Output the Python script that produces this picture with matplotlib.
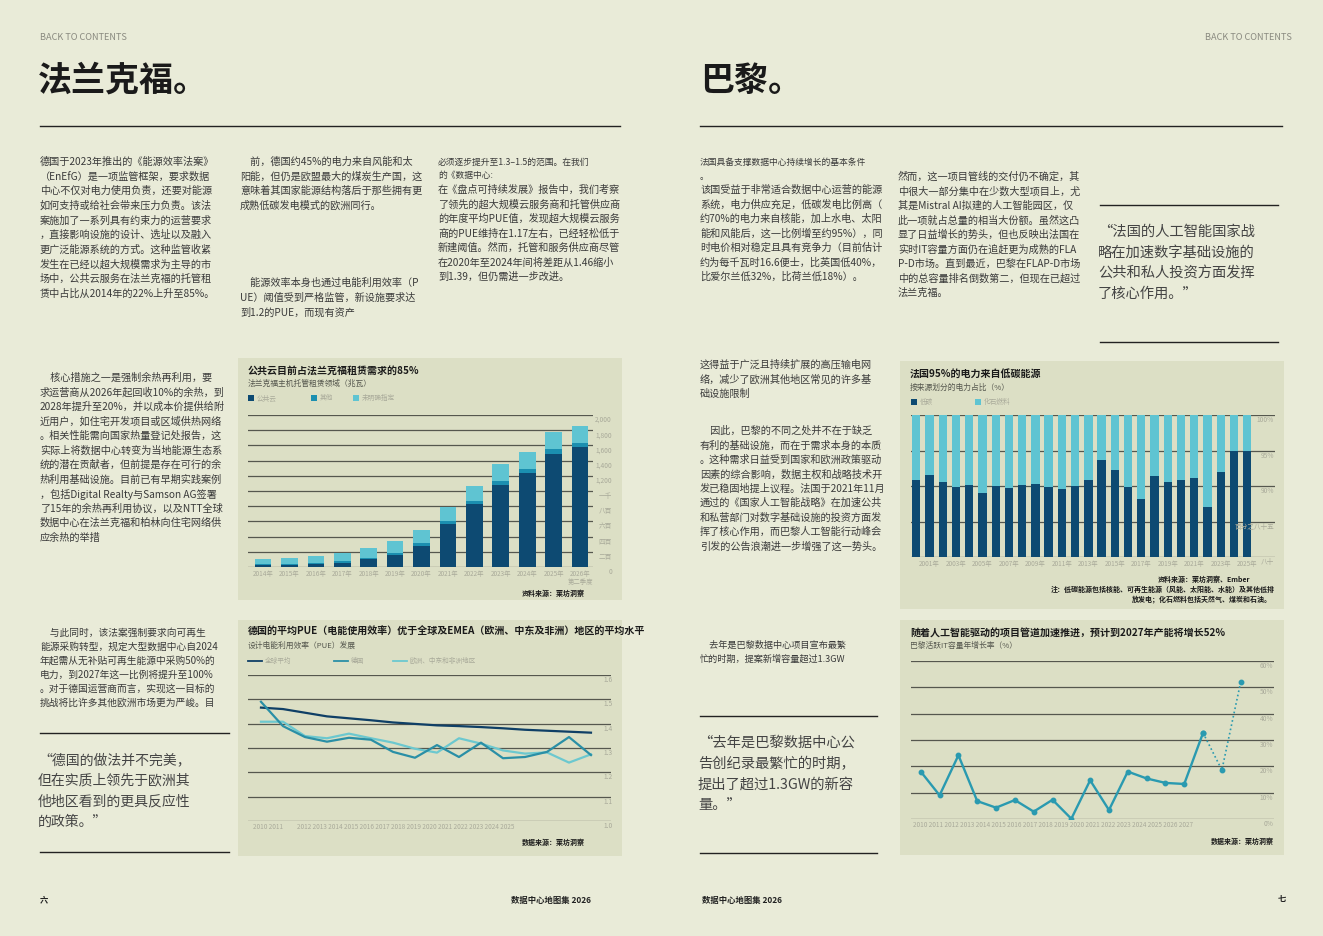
import matplotlib
matplotlib.use("Agg")
import matplotlib.pyplot as plt
from matplotlib.lines import Line2D
from matplotlib.patches import Rectangle
from matplotlib import transforms

plt.rcParams['font.family'] = ['Noto Sans CJK SC', 'DejaVu Sans']

# ---------------- data ----------------
# Frankfurt colocation take-up (MW)
fra_years = ["2014年", "2015年", "2016年", "2017年", "2018年", "2019年", "2020年",
             "2021年", "2022年", "2023年", "2024年", "2025年", "2026年\n第二季度"]
fra_public = [23, 27, 45, 54, 100, 159, 281, 567, 825, 1084, 1234, 1492, 1574]
fra_other = [10, 8, 14, 23, 13, 27, 36, 41, 41, 50, 49, 64, 54]
fra_unspec = [71, 87, 81, 104, 132, 154, 173, 186, 200, 217, 227, 226, 231]
fra_yticks = [0, 200, 400, 600, 800, 1000, 1200, 1400, 1600, 1800, 2000]
fra_ylabels = ["0", "二百", "四百", "六百", "八百", "一千", "1,200", "1,400", "1,600", "1,800", "2,000"]

# PUE development
pue_years = list(range(2010, 2026))
pue_global = [1.466, 1.460, 1.445, 1.430, 1.422, 1.414, 1.405, 1.399, 1.393, 1.390,
              1.386, 1.381, 1.375, 1.371, 1.367, 1.363]
pue_germany = [1.490, 1.390, 1.345, 1.326, 1.342, 1.334, 1.284, 1.260, 1.312, 1.263,
               1.322, 1.258, 1.263, 1.284, 1.345, 1.271]
pue_emea = [1.408, 1.408, 1.349, 1.340, 1.359, 1.340, 1.322, 1.297, 1.281, 1.340,
            1.318, 1.290, 1.277, 1.282, 1.240, 1.274]
pue_yticks = [1.0, 1.1, 1.2, 1.3, 1.4, 1.5, 1.6]

# France electricity mix (% low carbon)
fr_years = list(range(2000, 2026))
fr_lowcarbon = [90.8, 91.6, 90.6, 89.9, 90.2, 89.0, 90.0, 89.7, 90.2, 90.3, 89.8, 89.6, 90.0,
                90.8, 93.7, 92.2, 89.8, 88.2, 91.4, 90.5, 90.8, 91.1, 87.1, 92.0, 94.9, 94.9]
fr_yticks = [80, 85, 90, 95, 100]
fr_ylabels = ["八十", "百分之八十五", "90%", "95%", "100%"]

# Paris live IT capacity growth (%)
par_years = list(range(2010, 2028))
par_growth = [18.0, 9.0, 24.2, 6.8, 4.3, 7.2, 2.8, 7.3, 0.1, 14.7, 3.4, 18.0, 15.4,
              13.7, 13.3, 32.7, 18.6, 52.0]
par_yticks = [0, 10, 20, 30, 40, 50, 60]

# ---------------- style ----------------
W, H = 1323, 936
PAGE = '#e9ebd8'
PANEL = '#dcdfc5'
DARK = '#0d4a72'
MID = '#1b8fb0'
LIGHT = '#5fc4d2'
TXT = '#3a3a3a'
GRAY = '#a9aa9a'
GRID = '#55574e'

fig = plt.figure(figsize=(W / 100, H / 100), dpi=100)
fig.patch.set_facecolor(PAGE)


def ftext(x, y, s, size=7.3, color=TXT, weight='normal', ha='left', va='center', **kw):
    fig.text(x / W, 1 - y / H, s, fontsize=size, color=color, fontweight=weight,
             ha=ha, va=va, **kw)


def hrule(x0, x1, y, lw=1.0, color='#222222'):
    fig.add_artist(Line2D([x0 / W, x1 / W], [1 - y / H, 1 - y / H], color=color, lw=lw))


def panel(x0, y0, x1, y1):
    fig.add_artist(Rectangle((x0 / W, 1 - y1 / H), (x1 - x0) / W, (y1 - y0) / H,
                             transform=fig.transFigure, facecolor=PANEL, edgecolor='none',
                             zorder=0))


def block(x, y0, step, lines, size=7.3, color=TXT):
    for i, s in enumerate(lines):
        ftext(x, y0 + i * step, s, size=size, color=color)


def make_ax(x0, y0, x1, y1):
    ax = fig.add_axes([x0 / W, 1 - y1 / H, (x1 - x0) / W, (y1 - y0) / H])
    ax.set_facecolor('none')
    for sp in ax.spines.values():
        sp.set_visible(False)
    ax.tick_params(length=0)
    ax.set_yticks([])
    return ax


def right_labels(ax, values, labels, xfrac, dy=-5):
    trans = transforms.blended_transform_factory(ax.transAxes, ax.transData)
    trans = transforms.offset_copy(trans, fig=fig, y=dy, units='dots')
    for v, s in zip(values, labels):
        ax.axhline(v, color=GRID, lw=0.9, zorder=1)
        ax.text(xfrac, v, s, transform=trans, ha='right', va='center',
                fontsize=4.8, color=GRAY, clip_on=False)


# ---------------- page furniture ----------------
ftext(40, 38, "BACK TO CONTENTS", size=6.6, color='#8a8a80')
ftext(1292, 38, "BACK TO CONTENTS", size=6.6, color='#8a8a80', ha='right')
ftext(38, 80, "法兰克福。", size=24.5, color='#1a1a1a', weight='bold')
ftext(700, 80, "巴黎。", size=24.5, color='#1a1a1a', weight='bold')
hrule(40, 620, 126)
hrule(700, 1282, 126)

ftext(40, 900, "六", size=6, color='#222222', weight='bold')
ftext(591, 900, "数据中心地图集 2026", size=6, color='#222222', weight='bold', ha='right')
ftext(702, 900, "数据中心地图集 2026", size=6, color='#222222', weight='bold')
ftext(1286, 900, "七", size=6, color='#222222', weight='bold', ha='right')

# ---------------- left page text ----------------
block(40, 162, 14.6, [
    "德国于2023年推出的《能源效率法案》",
    "（EnEfG）是一项监管框架，要求数据",
    "中心不仅对电力使用负责，还要对能源",
    "如何支持或给社会带来压力负责。该法",
    "案施加了一系列具有约束力的运营要求",
    "，直接影响设施的设计、选址以及融入",
    "更广泛能源系统的方式。这种监管收紧",
    "发生在已经以超大规模需求为主导的市",
    "场中，公共云服务在法兰克福的托管租",
    "赁中占比从2014年的22%上升至85%。",
])
block(240, 162, 14.6, [
    "　前，德国约45%的电力来自风能和太",
    "阳能，但仍是欧盟最大的煤炭生产国，这",
    "意味着其国家能源结构落后于那些拥有更",
    "成熟低碳发电模式的欧洲同行。",
])
block(240, 283, 14.6, [
    "　能源效率本身也通过电能利用效率（P",
    "UE）阈值受到严格监管，新设施要求达",
    "到1.2的PUE，而现有资产",
])
block(438, 162, 13.5, [
    "必须逐步提升至1.3–1.5的范围。在我们",
    "的《数据中心:",
], size=6.3)
block(438, 190, 14.5, [
    "在《盘点可持续发展》报告中，我们考察",
    "了领先的超大规模云服务商和托管供应商",
    "的年度平均PUE值，发现超大规模云服务",
    "商的PUE维持在1.17左右，已经轻松低于",
    "新建阈值。然而，托管和服务供应商尽管",
    "在2020年至2024年间将差距从1.46缩小",
    "到1.39，但仍需进一步改进。",
])
block(40, 378, 14.5, [
    "　核心措施之一是强制余热再利用，要",
    "求运营商从2026年起回收10%的余热，到",
    "2028年提升至20%，并以成本价提供给附",
    "近用户，如住宅开发项目或区域供热网络",
    "。相关性能需向国家热量登记处报告，这",
    "实际上将数据中心转变为当地能源生态系",
    "统的潜在贡献者，但前提是存在可行的余",
    "热利用基础设施。目前已有早期实践案例",
    "，包括Digital Realty与Samson AG签署",
    "了15年的余热再利用协议，以及NTT全球",
    "数据中心在法兰克福和柏林向住宅网络供",
    "应余热的举措",
])
block(40, 633, 14.0, [
    "　与此同时，该法案强制要求向可再生",
    "能源采购转型，规定大型数据中心自2024",
    "年起需从无补贴可再生能源中采购50%的",
    "电力，到2027年这一比例将提升至100%",
    "。对于德国运营商而言，实现这一目标的",
    "挑战将比许多其他欧洲市场更为严峻。目",
], size=7.0)
hrule(40, 229, 733)
block(38, 760, 20.6, [
    "“德国的做法并不完美，",
    "但在实质上领先于欧洲其",
    "他地区看到的更具反应性",
    "的政策。”",
], size=10, color='#444444')
hrule(40, 229, 852)

# ---------------- right page text ----------------
block(700, 162, 14.0, [
    "法国具备支撑数据中心持续增长的基本条件",
    "。",
], size=6.3)
block(700, 190, 14.5, [
    "该国受益于非常适合数据中心运营的能源",
    "系统，电力供应充足，低碳发电比例高（",
    "约70%的电力来自核能，加上水电、太阳",
    "能和风能后，这一比例增至约95%），同",
    "时电价相对稳定且具有竞争力（目前估计",
    "约为每千瓦时16.6便士，比英国低40%，",
    "比爱尔兰低32%，比荷兰低18%）。",
])
block(898, 177, 14.5, [
    "然而，这一项目管线的交付仍不确定，其",
    "中很大一部分集中在少数大型项目上，尤",
    "其是Mistral AI拟建的人工智能园区，仅",
    "此一项就占总量的相当大份额。虽然这凸",
    "显了日益增长的势头，但也反映出法国在",
    "实时IT容量方面仍在追赶更为成熟的FLA",
    "P-D市场。直到最近，巴黎在FLAP-D市场",
    "中的总容量排名倒数第二，但现在已超过",
    "法兰克福。",
])
hrule(1100, 1278, 205)
block(1098, 232, 20.6, [
    "“法国的人工智能国家战",
    "略在加速数字基础设施的",
    "公共和私人投资方面发挥",
    "了核心作用。”",
], size=10.3, color='#444444')
hrule(1100, 1278, 342)
block(700, 365, 14.3, [
    "这得益于广泛且持续扩展的高压输电网",
    "络，减少了欧洲其他地区常见的许多基",
    "础设施限制",
])
block(700, 431, 14.4, [
    "　因此，巴黎的不同之处并不在于缺乏",
    "有利的基础设施，而在于需求本身的本质",
    "。这种需求日益受到国家和欧洲政策驱动",
    "因素的综合影响，数据主权和战略技术开",
    "发已稳固地提上议程。法国于2021年11月",
    "通过的《国家人工智能战略》在加速公共",
    "和私营部门对数字基础设施的投资方面发",
    "挥了核心作用，而巴黎人工智能行动峰会",
    "引发的公告浪潮进一步增强了这一势头。",
])
block(700, 645, 14.0, [
    "　去年是巴黎数据中心项目宣布最繁",
    "忙的时期，提案新增容量超过1.3GW",
], size=6.6)
hrule(700, 877, 716)
block(698, 743, 20.6, [
    "“去年是巴黎数据中心公",
    "告创纪录最繁忙的时期，",
    "提出了超过1.3GW的新容",
    "量。”",
], size=10.3, color='#444444')
hrule(700, 877, 853)

# ---------------- chart 1: Frankfurt take-up ----------------
panel(238, 358, 622, 600)
ftext(248, 371, "公共云目前占法兰克福租赁需求的85%", size=7.2, color='#1a1a1a', weight='bold')
ftext(248, 384, "法兰克福主机托管租赁领域（兆瓦）", size=5.6, color='#55574e')
for lx, c, s in [(248, DARK, "公共云"), (311, MID, "其他"), (353, LIGHT, "未明确指定")]:
    fig.add_artist(Rectangle((lx / W, 1 - 401 / H), 6 / W, 6 / H, transform=fig.transFigure,
                             facecolor=c, edgecolor='none'))
    ftext(lx + 9, 398, s, size=4.8, color=GRAY)

ax1 = make_ax(248, 415, 593, 567)
x1 = list(range(len(fra_years)))
bottom2 = [a + b for a, b in zip(fra_public, fra_other)]
ax1.bar(x1, fra_public, width=0.63, color=DARK, zorder=2)
ax1.bar(x1, fra_other, bottom=fra_public, width=0.63, color=MID, zorder=2)
ax1.bar(x1, fra_unspec, bottom=bottom2, width=0.63, color=LIGHT, zorder=2)
ax1.set_xlim(-0.57, 12.49)
ax1.set_ylim(0, 2000)
right_labels(ax1, fra_yticks, fra_ylabels, (612 - 248) / (593 - 248))
ax1.set_xticks(x1)
ax1.set_xticklabels(fra_years, fontsize=4.6, color=GRAY, linespacing=0.95)
ax1.tick_params(axis='x', pad=2.5)
ftext(585, 593, "资料来源：莱坊洞察", size=5, color='#1a1a1a', weight='bold', ha='right')

# ---------------- chart 2: PUE ----------------
panel(238, 620, 622, 856)
ftext(248, 632, "德国的平均PUE（电能使用效率）优于全球及EMEA（欧洲、中东及非洲）地区的平均水平",
      size=7.2, color='#1a1a1a', weight='bold')
ftext(248, 646, "设计电能利用效率（PUE）发展", size=5.6, color='#55574e')
for lx, c, s in [(248, '#0f3f66', "全球平均"), (334, '#2a8fa6', "德国"),
                 (393, '#6cc8cf', "欧洲、中东和非洲地区")]:
    hrule(lx, lx + 14, 661, lw=1.3, color=c)
    ftext(lx + 17, 661, s, size=4.8, color=GRAY)

ax2 = make_ax(248, 675, 611, 821)
x2 = list(range(len(pue_years)))
right_labels(ax2, pue_yticks, [f"{v:.1f}" for v in pue_yticks], (613 - 248) / (611 - 248))
ax2.plot(x2, pue_global, color='#0f3f66', lw=1.6, zorder=3)
ax2.plot(x2, pue_emea, color='#6cc8cf', lw=1.6, zorder=3)
ax2.plot(x2, pue_germany, color='#2a8fa6', lw=1.6, zorder=4)
ax2.set_xlim(-0.59, 15.91)
ax2.set_ylim(1.0, 1.6)
ax2.set_xticks([])
yrs = [str(y) for y in pue_years]
ax2.text((253 - 248) / 363, -0.04, " ".join(yrs[:2]), transform=ax2.transAxes,
         fontsize=4.6, color=GRAY, va='center')
ax2.text((297 - 248) / 363, -0.04, " ".join(yrs[2:]), transform=ax2.transAxes,
         fontsize=4.6, color=GRAY, va='center')
ftext(585, 842, "数据来源：莱坊洞察", size=5, color='#1a1a1a', weight='bold', ha='right')

# ---------------- chart 3: France mix ----------------
panel(900, 361, 1284, 609)
ftext(910, 374, "法国95%的电力来自低碳能源", size=7.2, color='#1a1a1a', weight='bold')
ftext(910, 388, "按来源划分的电力占比（%）", size=5.6, color='#55574e')
for lx, c, s in [(911, DARK, "低碳"), (975, LIGHT, "化石燃料")]:
    fig.add_artist(Rectangle((lx / W, 1 - 405 / H), 6 / W, 6 / H, transform=fig.transFigure,
                             facecolor=c, edgecolor='none'))
    ftext(lx + 9, 402, s, size=4.8, color=GRAY)

ax3 = make_ax(911, 415, 1275, 557)
x3 = list(range(len(fr_years)))
fossil = [100 - v for v in fr_lowcarbon]
low_h = [v - 80 for v in fr_lowcarbon]
ax3.bar(x3, low_h, bottom=80, width=0.63, color=DARK, zorder=2)
ax3.bar(x3, fossil, bottom=fr_lowcarbon, width=0.63, color=LIGHT, zorder=2)
ax3.set_xlim(-0.4, 27.1)
ax3.set_ylim(80, 100)
right_labels(ax3, fr_yticks, fr_ylabels, (1274 - 911) / (1275 - 911))
ax3.set_xticks(x3[1::2])
ax3.set_xticklabels([f"{y}年" for y in fr_years[1::2]], fontsize=4.6, color=GRAY)
ax3.tick_params(axis='x', pad=2.5)
ftext(1250, 579, "资料来源：莱坊洞察、Ember", size=5, color='#1a1a1a', weight='bold', ha='right')
ftext(1275, 589, "注：低碳能源包括核能、可再生能源（风能、太阳能、水能）及其他低排",
      size=5, color='#1a1a1a', weight='bold', ha='right')
ftext(1272, 599, "放发电；化石燃料包括天然气、煤炭和石油。", size=5, color='#1a1a1a',
      weight='bold', ha='right')

# ---------------- chart 4: Paris growth ----------------
panel(900, 620, 1284, 855)
ftext(910, 633, "随着人工智能驱动的项目管道加速推进，预计到2027年产能将增长52%",
      size=7.2, color='#1a1a1a', weight='bold')
ftext(910, 646, "巴黎活跃IT容量年增长率（%）", size=5.6, color='#55574e')

ax4 = make_ax(911, 661, 1274, 819)
x4 = list(range(len(par_years)))
right_labels(ax4, par_yticks, [f"{v}%" for v in par_yticks], (1273 - 911) / (1274 - 911))
ax4.plot(x4[:16], par_growth[:16], color='#2a9ab0', lw=1.7, marker='o', ms=3.2, zorder=3)
ax4.plot(x4[15:], par_growth[15:], color='#2a9ab0', lw=1.2, ls=(0, (1, 1.6)),
         marker='o', ms=3.2, zorder=3)
ax4.set_xlim(-0.52, 18.77)
ax4.set_ylim(0, 60)
ax4.set_xticks([])
ax4.text((913 - 911) / 363, -0.04, " ".join(str(y) for y in par_years),
         transform=ax4.transAxes, fontsize=4.6, color=GRAY, va='center')
ftext(1274, 841, "数据来源：莱坊洞察", size=5, color='#1a1a1a', weight='bold', ha='right')

fig.savefig("out.png", dpi=100, facecolor=PAGE)
